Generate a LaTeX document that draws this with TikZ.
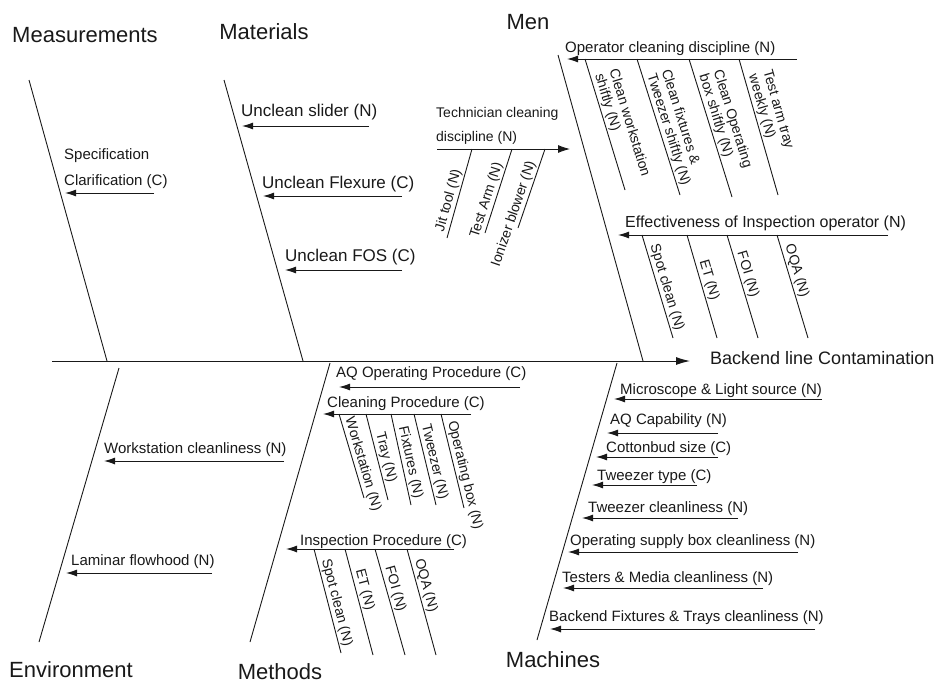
\documentclass[tikz,border=0pt]{standalone}
\usepackage{fontspec}
\setmainfont{Liberation Sans}
\usetikzlibrary{arrows.meta}

\tikzset{
  category/.style={font=\fontsize{22}{24}\selectfont, inner sep=0pt},
  effect/.style={font=\fontsize{18}{20}\selectfont, inner sep=0pt, anchor=base west},
  cause/.style={font=\fontsize{15}{17}\selectfont, inner sep=1pt, anchor=base west},
  bigcause/.style={cause, font=\fontsize{17}{19}\selectfont},
  subcause/.style={font=\fontsize{14}{15}\selectfont, inner sep=1.5pt, sloped, anchor=south west, align=left},
  bone/.style={line width=0.9pt},
  causearrow/.style={line width=0.9pt, -{Latex[length=11pt,width=7pt]}},
}

\begin{document}
\begin{tikzpicture}[x=1pt,y=-1pt,>=Latex,black!90]
  \useasboundingbox (0,0) rectangle (949,683);
  % spine and effect
  \coordinate (tail) at (52,361);
  \coordinate (head) at (690,361);
  \draw[line width=1pt,-{Latex[length=14pt,width=8pt]}] (tail) -- (head);
  \node[effect] (effect) at (710,364) {Backend line Contamination};

  % category bones
  \coordinate (meas-top) at (29,80);   \coordinate (meas-foot) at (107,361);
  \coordinate (mat-top) at (224,80);   \coordinate (mat-foot) at (303,361);
  \coordinate (men-top) at (558,55);   \coordinate (men-foot) at (643,361);
  \coordinate (env-top) at (119,368);  \coordinate (env-foot) at (39,642);
  \coordinate (meth-top) at (330,363); \coordinate (meth-foot) at (250,642);
  \coordinate (mach-top) at (617,363); \coordinate (mach-foot) at (537,640);
  \draw[bone] (meas-top) -- (meas-foot);
  \draw[bone] (mat-top) -- (mat-foot);
  \draw[bone] (men-top) -- (men-foot);
  \draw[bone] (env-top) -- (env-foot);
  \draw[bone] (meth-top) -- (meth-foot);
  \draw[bone] (mach-top) -- (mach-foot);
  \node[category] (measurements) at (85,35) {Measurements};
  \node[category] (materials) at (264,32) {Materials};
  \node[category] (men) at (528,22) {Men};
  \node[category] (environment) at (71,670) {Environment};
  \node[category] (methods) at (280,672) {Methods};
  \node[category] (machines) at (553,660) {Machines};

  % measurements
  \coordinate (spec-end) at (154,193); \coordinate (spec-tip) at (65,193);
  \draw[causearrow] (spec-end) -- (spec-tip);
  \node[cause, anchor=south west, align=left] (spec) at (63,190) {Specification\\[9pt]Clarification (C)};

  % materials
  \coordinate (slider-end) at (369,126); \coordinate (slider-tip) at (242,126);
  \draw[causearrow] (slider-end) -- (slider-tip);
  \node[bigcause] (slider) at (240,116) {Unclean slider (N)};
  \coordinate (flex-end) at (402,196); \coordinate (flex-tip) at (263,196);
  \draw[causearrow] (flex-end) -- (flex-tip);
  \node[bigcause] (flex) at (261,188) {Unclean Flexure (C)};
  \coordinate (fos-end) at (402,270); \coordinate (fos-tip) at (285,270);
  \draw[causearrow] (fos-end) -- (fos-tip);
  \node[bigcause] (fos) at (284,261) {Unclean FOS (C)};

  % men: technician
  \coordinate (tech-start) at (437,149); \coordinate (tech-tip) at (570,149);
  \draw[line width=0.9pt,-{Latex[length=12pt,width=8pt]}] (tech-start) -- (tech-tip);
  \node[cause, anchor=south west, align=left, font=\fontsize{14}{16}\selectfont] (tech) at (435,146) {Technician cleaning\\[8pt]discipline (N)};
  \coordinate (jig-a) at (447,238); \coordinate (jig-b) at (472,149);
  \draw[bone] (jig-a) -- (jig-b) node[subcause, pos=0.03] (jig) {Jit tool (N)};
  \coordinate (arm-a) at (485,233); \coordinate (arm-b) at (512,149);
  \draw[bone] (arm-a) -- (arm-b) node[subcause, pos=-0.11] (arm) {Test Arm (N)};
  \coordinate (ion-a) at (518,228); \coordinate (ion-b) at (545,149);
  \draw[bone] (ion-a) -- (ion-b) node[subcause, pos=-0.54] (ion) {Ionizer blower (N)};

  % men: operator
  \coordinate (oper-end) at (797,59); \coordinate (oper-tip) at (567,59);
  \draw[causearrow] (oper-end) -- (oper-tip);
  \node[cause] (oper) at (564,52) {Operator cleaning discipline (N)};
  \coordinate (op1-a) at (585,59); \coordinate (op1-b) at (625,190);
  \draw[bone] (op1-a) -- (op1-b) node[subcause, pos=0.12] (op1) {Clean workstation\\shiftly (N)};
  \coordinate (op2-a) at (637,59); \coordinate (op2-b) at (680,195);
  \draw[bone] (op2-a) -- (op2-b) node[subcause, pos=0.12] (op2) {Clean fixtures \&\\Tweezer shiftly (N)};
  \coordinate (op3-a) at (689,59); \coordinate (op3-b) at (732,197);
  \draw[bone] (op3-a) -- (op3-b) node[subcause, pos=0.12] (op3) {Clean Operating\\box shiftly (N)};
  \coordinate (op4-a) at (739,59); \coordinate (op4-b) at (778,195);
  \draw[bone] (op4-a) -- (op4-b) node[subcause, pos=0.12] (op4) {Test arm tray\\weekly (N)};

  % men: inspection operator
  \coordinate (eff-end) at (888,235); \coordinate (eff-tip) at (618,235);
  \draw[causearrow] (eff-end) -- (eff-tip);
  \node[cause, font=\fontsize{16}{18}\selectfont] (eff) at (624,227) {Effectiveness of Inspection operator (N)};
  \coordinate (ef1-a) at (642,235); \coordinate (ef1-b) at (673,338);
  \draw[bone] (ef1-a) -- (ef1-b) node[subcause, pos=0.1] (ef1) {Spot clean (N)};
  \coordinate (ef2-a) at (687,235); \coordinate (ef2-b) at (717,338);
  \draw[bone] (ef2-a) -- (ef2-b) node[subcause, pos=0.25] (ef2) {ET (N)};
  \coordinate (ef3-a) at (727,235); \coordinate (ef3-b) at (758,338);
  \draw[bone] (ef3-a) -- (ef3-b) node[subcause, pos=0.17] (ef3) {FOI (N)};
  \coordinate (ef4-a) at (777,235); \coordinate (ef4-b) at (808,338);
  \draw[bone] (ef4-a) -- (ef4-b) node[subcause, pos=0.1] (ef4) {OQA (N)};

  % environment
  \coordinate (ws-end) at (284,461); \coordinate (ws-tip) at (104,461);
  \draw[causearrow] (ws-end) -- (ws-tip);
  \node[cause] (ws) at (103,453) {Workstation cleanliness (N)};
  \coordinate (lam-end) at (212,573); \coordinate (lam-tip) at (66,573);
  \draw[causearrow] (lam-end) -- (lam-tip);
  \node[cause] (lam) at (70,565) {Laminar flowhood (N)};

  % methods
  \coordinate (aq-end) at (520,387); \coordinate (aq-tip) at (339,387);
  \draw[causearrow] (aq-end) -- (aq-tip);
  \node[cause] (aq) at (335,377) {AQ Operating Procedure (C)};
  \coordinate (clp-end) at (471,414); \coordinate (clp-tip) at (323,414);
  \draw[causearrow] (clp-end) -- (clp-tip);
  \node[cause] (clp) at (326,407) {Cleaning Procedure (C)};
  \coordinate (cp1-a) at (339,414); \coordinate (cp1-b) at (364,498);
  \draw[bone] (cp1-a) -- (cp1-b) node[subcause, pos=0.05] (cp1) {Workstation (N)};
  \coordinate (cp2-a) at (366,414); \coordinate (cp2-b) at (388,500);
  \draw[bone] (cp2-a) -- (cp2-b) node[subcause, pos=0.22] (cp2) {Tray (N)};
  \coordinate (cp3-a) at (391,414); \coordinate (cp3-b) at (411,505);
  \draw[bone] (cp3-a) -- (cp3-b) node[subcause, pos=0.14] (cp3) {Fixtures (N)};
  \coordinate (cp4-a) at (414,414); \coordinate (cp4-b) at (436,505);
  \draw[bone] (cp4-a) -- (cp4-b) node[subcause, pos=0.12] (cp4) {Tweezer (N)};
  \coordinate (cp5-a) at (441,414); \coordinate (cp5-b) at (464,508);
  \draw[bone] (cp5-a) -- (cp5-b) node[subcause, pos=0.08] (cp5) {Operating box (N)};
  \coordinate (insp-end) at (454,549); \coordinate (insp-tip) at (286,549);
  \draw[causearrow] (insp-end) -- (insp-tip);
  \node[cause] (insp) at (299,545) {Inspection Procedure (C)};
  \coordinate (ip1-a) at (314,549); \coordinate (ip1-b) at (341,653);
  \draw[bone] (ip1-a) -- (ip1-b) node[subcause, pos=0.1] (ip1) {Spot clean (N)};
  \coordinate (ip2-a) at (345,549); \coordinate (ip2-b) at (373,655);
  \draw[bone] (ip2-a) -- (ip2-b) node[subcause, pos=0.2] (ip2) {ET (N)};
  \coordinate (ip3-a) at (375,549); \coordinate (ip3-b) at (405,655);
  \draw[bone] (ip3-a) -- (ip3-b) node[subcause, pos=0.17] (ip3) {FOI (N)};
  \coordinate (ip4-a) at (407,549); \coordinate (ip4-b) at (436,655);
  \draw[bone] (ip4-a) -- (ip4-b) node[subcause, pos=0.1] (ip4) {OQA (N)};

  % machines
  \coordinate (mic-end) at (822,399); \coordinate (mic-tip) at (614,399);
  \draw[causearrow] (mic-end) -- (mic-tip);
  \node[cause] (mic) at (619,394) {Microscope \& Light source (N)};
  \coordinate (aqc-end) at (718,433); \coordinate (aqc-tip) at (607,433);
  \draw[causearrow] (aqc-end) -- (aqc-tip);
  \node[cause] (aqc) at (609,424) {AQ Capability (N)};
  \coordinate (cot-end) at (718,457); \coordinate (cot-tip) at (596,457);
  \draw[causearrow] (cot-end) -- (cot-tip);
  \node[cause] (cot) at (605,452) {Cottonbud size (C)};
  \coordinate (twt-end) at (697,485); \coordinate (twt-tip) at (592,485);
  \draw[causearrow] (twt-end) -- (twt-tip);
  \node[cause] (twt) at (596,480) {Tweezer type (C)};
  \coordinate (twc-end) at (738,518); \coordinate (twc-tip) at (582,518);
  \draw[causearrow] (twc-end) -- (twc-tip);
  \node[cause] (twc) at (587,512) {Tweezer cleanliness (N)};
  \coordinate (sup-end) at (798,552); \coordinate (sup-tip) at (568,552);
  \draw[causearrow] (sup-end) -- (sup-tip);
  \node[cause] (sup) at (569,545) {Operating supply box cleanliness (N)};
  \coordinate (tst-end) at (763,588); \coordinate (tst-tip) at (563,588);
  \draw[causearrow] (tst-end) -- (tst-tip);
  \node[cause] (tst) at (561,582) {Testers \& Media cleanliness (N)};
  \coordinate (bfx-end) at (815,629); \coordinate (bfx-tip) at (550,629);
  \draw[causearrow] (bfx-end) -- (bfx-tip);
  \node[cause] (bfx) at (548,621) {Backend Fixtures \& Trays cleanliness (N)};
\end{tikzpicture}
\end{document}
